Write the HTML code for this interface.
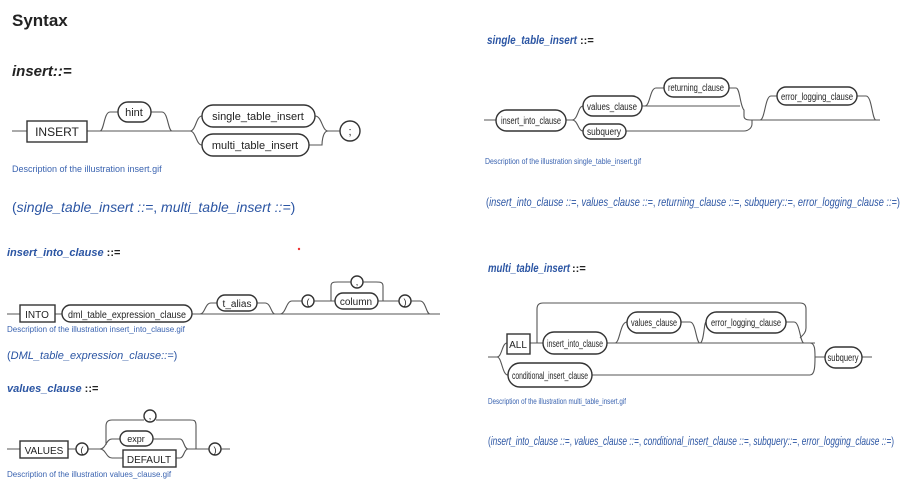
<!DOCTYPE html>
<html><head><meta charset="utf-8"><style>
html,body{margin:0;padding:0;background:#fff;}
svg{display:block;font-family:"Liberation Sans",sans-serif;}
.b{fill:none;stroke:#333;stroke-width:1.4}
.l{fill:none;stroke:#555;stroke-width:1.1}
.t{fill:#222}
.d{fill:#3a63b0}
.k{fill:#2b55a3}
</style></head><body>
<svg width="909" height="483" viewBox="0 0 909 483" xmlns="http://www.w3.org/2000/svg">
<text x="12" y="26" font-size="17" font-weight="bold" class="t">Syntax</text>
<text x="12" y="76" font-size="15" font-weight="bold" font-style="italic" class="t">insert::=</text>

<!-- insert diagram -->
<path class="l" d="M12 131H27M87 131H100M100 131 C104 131 104 112 110 112H118M151 112H162C168 112 168 131 172 131H190M100 131H190M190 131C196 131 196 116 202 116M190 131C196 131 196 145 202 145M315 116C322 116 322 131 328 131H340M309 145H322C322 145 322 131 328 131"/>
<rect x="27" y="121" width="60" height="21" class="b"/>
<text x="57" y="136" font-size="12" text-anchor="middle" class="t">INSERT</text>
<rect x="118" y="102" width="33" height="20" rx="10" class="b"/>
<text x="134" y="116" font-size="11" text-anchor="middle" class="t">hint</text>
<rect x="202" y="105" width="113" height="22" rx="11" class="b"/>
<text x="258" y="120" font-size="11" text-anchor="middle" class="t">single_table_insert</text>
<rect x="202" y="134" width="107" height="22" rx="11" class="b"/>
<text x="255" y="149" font-size="11" text-anchor="middle" class="t">multi_table_insert</text>
<circle cx="350" cy="131" r="10" class="b"/>
<text x="350" y="135" font-size="11" text-anchor="middle" class="t">;</text>
<text x="12" y="172" font-size="9" class="d">Description of the illustration insert.gif</text>
<text x="12" y="212" font-size="14" class="k">(<tspan font-style="italic">single_table_insert ::=</tspan>, <tspan font-style="italic">multi_table_insert ::=</tspan>)</text>

<text x="7" y="256" font-size="11" font-weight="bold" font-style="italic" class="k">insert_into_clause <tspan font-style="normal" fill="#222">::=</tspan></text>
<circle cx="299" cy="249" r="1.2" fill="#e33"/>

<!-- into diagram -->
<path class="l" d="M7 314H20M55 314H62M192 314H440M200 314C205 314 205 303 211 303H217M257 303H265C271 303 271 314 275 314M280 314C286 314 286 301 292 301H302M314 301H335M378 301H399M411 301H420C426 301 426 314 430 314M383 301V286C383 282 380 282 376 282H363M351 282H338C334 282 331 282 331 286V301"/>
<rect x="20" y="305" width="35" height="17" class="b"/>
<text x="37" y="318" font-size="10" text-anchor="middle" class="t">INTO</text>
<rect x="62" y="305" width="130" height="17" rx="8.5" class="b"/>
<text x="127" y="318" font-size="10" text-anchor="middle" class="t" textLength="118" lengthAdjust="spacingAndGlyphs">dml_table_expression_clause</text>
<rect x="217" y="295" width="40" height="16" rx="8" class="b"/>
<text x="237" y="307" font-size="10" text-anchor="middle" class="t">t_alias</text>
<circle cx="308" cy="301" r="6" class="b"/>
<text x="308" y="305" font-size="9" text-anchor="middle" class="t">(</text>
<rect x="335" y="293" width="43" height="16" rx="8" class="b"/>
<text x="356" y="305" font-size="10" text-anchor="middle" class="t">column</text>
<circle cx="357" cy="282" r="6" class="b"/>
<text x="357" y="285" font-size="9" text-anchor="middle" class="t">,</text>
<circle cx="405" cy="301" r="6" class="b"/>
<text x="405" y="305" font-size="9" text-anchor="middle" class="t">)</text>
<text x="7" y="332" font-size="8" class="d">Description of the illustration insert_into_clause.gif</text>
<text x="7" y="359" font-size="11" class="k">(<tspan font-style="italic">DML_table_expression_clause::=</tspan>)</text>

<text x="7" y="392" font-size="11" font-weight="bold" font-style="italic" class="k">values_clause <tspan font-style="normal" fill="#222">::=</tspan></text>

<!-- values diagram -->
<path class="l" d="M7 449H20M68 449H76M88 449H100C106 449 106 439 112 439H120M100 449C106 449 106 458 112 458H123M153 439H180C184 439 184 449 188 449H209M176 458H180C184 458 184 449 188 449M221 449H230M196 449V426C196 420 194 420 190 420H156M144 420H112C108 420 106 422 106 426V445"/>
<rect x="20" y="441" width="48" height="17" class="b"/>
<text x="44" y="454" font-size="10" text-anchor="middle" class="t">VALUES</text>
<circle cx="82" cy="449" r="6" class="b"/>
<text x="82" y="453" font-size="9" text-anchor="middle" class="t">(</text>
<rect x="120" y="431" width="33" height="15" rx="7.5" class="b"/>
<text x="136" y="442" font-size="9" text-anchor="middle" class="t">expr</text>
<rect x="123" y="450" width="53" height="17" class="b"/>
<text x="149" y="463" font-size="10" text-anchor="middle" class="t">DEFAULT</text>
<circle cx="150" cy="416" r="6" class="b"/>
<text x="150" y="419" font-size="9" text-anchor="middle" class="t">,</text>
<circle cx="215" cy="449" r="6" class="b"/>
<text x="215" y="453" font-size="9" text-anchor="middle" class="t">)</text>
<text x="7" y="477" font-size="8" class="d">Description of the illustration values_clause.gif</text>

<!-- right: single_table_insert -->
<text x="487" y="44" font-size="12" font-weight="bold" font-style="italic" class="k" textLength="90" lengthAdjust="spacingAndGlyphs">single_table_insert</text>
<text x="580" y="44" font-size="11" font-weight="bold" class="t">::=</text>
<path class="l" d="M484 120H496M566 120H572C578 120 578 106 583 106M572 120C578 120 578 131 583 131M642 106H645C650 106 650 88 656 88H664M645 106H740M729 88H736C740 88 740 106 744 110V116C744 120 748 120 752 120M626 131H744C748 131 752 128 752 124V120M752 120H880M760 120C765 120 765 96 771 96H777M857 96H866C872 96 872 120 876 120"/>
<rect x="496" y="110" width="70" height="21" rx="10.5" class="b"/>
<text x="531" y="124" font-size="10" text-anchor="middle" class="t" textLength="60" lengthAdjust="spacingAndGlyphs">insert_into_clause</text>
<rect x="583" y="96" width="59" height="20" rx="10" class="b"/>
<text x="612" y="110" font-size="10" text-anchor="middle" class="t" textLength="50" lengthAdjust="spacingAndGlyphs">values_clause</text>
<rect x="664" y="78" width="65" height="19" rx="9.5" class="b"/>
<text x="696" y="91" font-size="10" text-anchor="middle" class="t" textLength="56" lengthAdjust="spacingAndGlyphs">returning_clause</text>
<rect x="583" y="124" width="43" height="15" rx="7.5" class="b"/>
<text x="604" y="135" font-size="10" text-anchor="middle" class="t" textLength="34" lengthAdjust="spacingAndGlyphs">subquery</text>
<rect x="777" y="87" width="80" height="18" rx="9" class="b"/>
<text x="817" y="100" font-size="10" text-anchor="middle" class="t" textLength="72" lengthAdjust="spacingAndGlyphs">error_logging_clause</text>
<text x="485" y="164" font-size="8" class="d" textLength="156" lengthAdjust="spacingAndGlyphs">Description of the illustration single_table_insert.gif</text>
<text x="486" y="206" font-size="12" class="k" textLength="414" lengthAdjust="spacingAndGlyphs">(<tspan font-style="italic">insert_into_clause ::=</tspan>, <tspan font-style="italic">values_clause ::=</tspan>, <tspan font-style="italic">returning_clause ::=</tspan>, <tspan font-style="italic">subquery::=</tspan>, <tspan font-style="italic">error_logging_clause ::=</tspan>)</text>

<!-- right: multi_table_insert -->
<text x="488" y="272" font-size="12" font-weight="bold" font-style="italic" class="k" textLength="82" lengthAdjust="spacingAndGlyphs">multi_table_insert</text>
<text x="572" y="272" font-size="11" font-weight="bold" class="t">::=</text>
<path class="l" d="M488 357H497C502 357 502 343 507 343M497 357C502 357 502 375 508 375M530 343H543M537 343V309C537 305 539 303 543 303H800C804 303 806 305 806 309V328C806 332 804 334 800 338M607 343H815M615 343C620 343 620 322 627 322M681 322H690C696 322 696 343 700 343M700 343C704 343 704 322 706 322M786 322H794C800 322 800 343 804 343M592 375H810C815 375 815 365 815 357M810 343C815 343 815 350 815 357H825M862 357H872"/>
<rect x="507" y="334" width="23" height="20" class="b"/>
<text x="518" y="348" font-size="10" text-anchor="middle" class="t">ALL</text>
<rect x="543" y="332" width="64" height="22" rx="11" class="b"/>
<text x="575" y="347" font-size="10" text-anchor="middle" class="t" textLength="56" lengthAdjust="spacingAndGlyphs">insert_into_clause</text>
<rect x="627" y="312" width="54" height="21" rx="10.5" class="b"/>
<text x="654" y="326" font-size="10" text-anchor="middle" class="t" textLength="46" lengthAdjust="spacingAndGlyphs">values_clause</text>
<rect x="706" y="312" width="80" height="21" rx="10.5" class="b"/>
<text x="746" y="326" font-size="10" text-anchor="middle" class="t" textLength="70" lengthAdjust="spacingAndGlyphs">error_logging_clause</text>
<rect x="508" y="363" width="84" height="24" rx="12" class="b"/>
<text x="550" y="379" font-size="10" text-anchor="middle" class="t" textLength="76" lengthAdjust="spacingAndGlyphs">conditional_insert_clause</text>
<rect x="825" y="347" width="37" height="21" rx="10.5" class="b"/>
<text x="843" y="361" font-size="10" text-anchor="middle" class="t" textLength="31" lengthAdjust="spacingAndGlyphs">subquery</text>
<text x="488" y="404" font-size="8" class="d" textLength="138" lengthAdjust="spacingAndGlyphs">Description of the illustration multi_table_insert.gif</text>
<text x="488" y="445" font-size="12" class="k" textLength="406" lengthAdjust="spacingAndGlyphs">(<tspan font-style="italic">insert_into_clause ::=</tspan>, <tspan font-style="italic">values_clause ::=</tspan>, <tspan font-style="italic">conditional_insert_clause ::=</tspan>, <tspan font-style="italic">subquery::=</tspan>, <tspan font-style="italic">error_logging_clause ::=</tspan>)</text>
</svg>
</body></html>
